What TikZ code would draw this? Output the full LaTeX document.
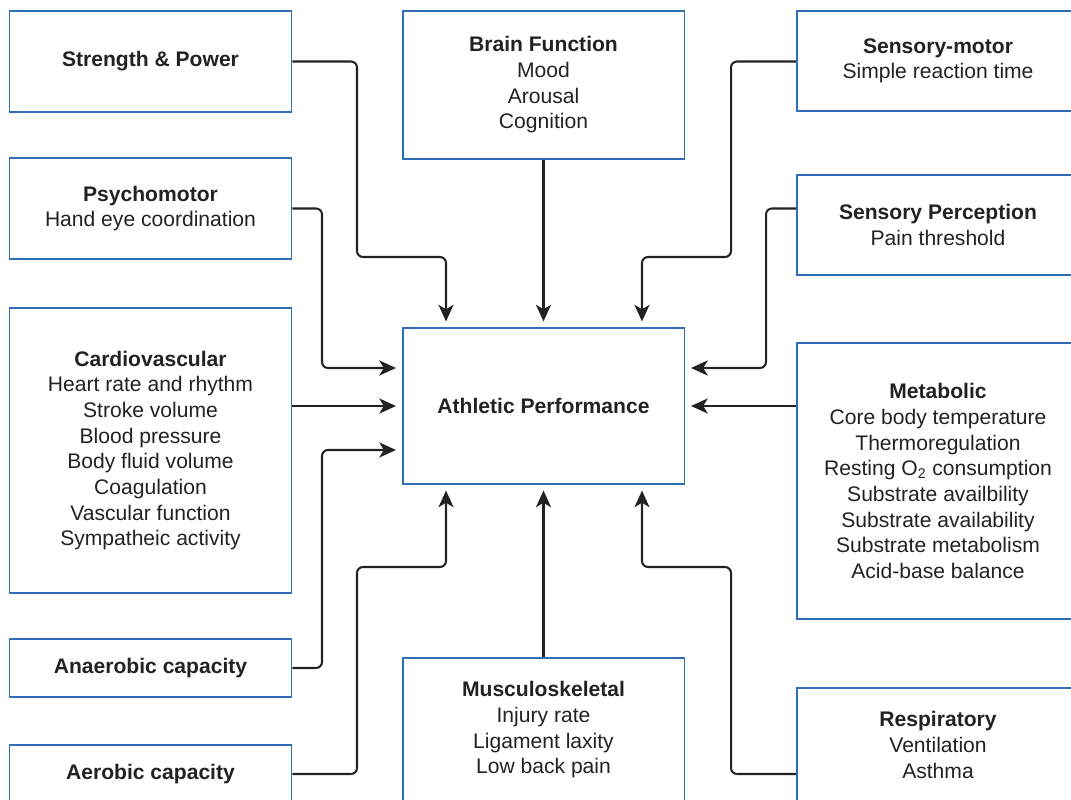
\documentclass[tikz,border=0pt]{standalone}
\usepackage{fontspec}
\setmainfont{Liberation Sans}
\usetikzlibrary{arrows.meta}
\usetikzlibrary{calc}

\definecolor{boxblue}{RGB}{48,110,182}
\definecolor{ink}{RGB}{34,34,34}

\tikzset{
    box/.style={draw=boxblue, line width=1.1pt, minimum width=5.64cm, align=center,
        text=ink, font=\fontsize{12}{14.6}\selectfont, inner sep=0pt},
    link/.style={draw=ink, line width=1.15pt, rounded corners=3.4pt,
        -{Stealth[length=9.5pt,width=8.6pt,inset=2.6pt]}, shorten >=3.2pt},
}

\begin{document}
\begin{tikzpicture}[x=0.02cm, y=-0.02cm]
    \useasboundingbox (0,0) rectangle (1071,800);
    \clip (0,0) rectangle (1071,800);

    % 中间的方框
    \node[box, minimum height=3.12cm] (athletic) at (543.5,406) {\textbf{Athletic Performance}};

    % 左列
    \node[box, minimum height=2.02cm] (strength) at (150.5,61.5) {\textbf{Strength \& Power}};
    \node[box, minimum height=2.02cm] (psycho) at (150.5,208.5) {\textbf{Psychomotor}\\Hand eye coordination};
    \node[box, minimum height=5.7cm] (cardio) at (150.5,450.5) {\textbf{Cardiovascular}\\Heart rate and rhythm\\Stroke volume\\Blood pressure\\Body fluid volume\\Coagulation\\Vascular function\\Sympatheic activity};
    \node[box, minimum height=1.16cm] (anaerobic) at (150.5,668) {\textbf{Anaerobic capacity}};
    \node[box, minimum height=1.16cm] (aerobic) at (150.5,774) {\textbf{Aerobic capacity}};

    % 中列
    \node[box, minimum height=2.96cm] (brain) at (543.5,85) {\textbf{Brain Function}\\Mood\\Arousal\\Cognition};
    \node[box, minimum height=2.88cm] (musculo) at (543.5,730) {\textbf{Musculoskeletal}\\Injury rate\\Ligament laxity\\Low back pain};

    % 右列
    \node[box, minimum height=2.0cm] (sensmotor) at (938,61) {\textbf{Sensory-motor}\\Simple reaction time};
    \node[box, minimum height=2.0cm] (sensperc) at (938,225) {\textbf{Sensory Perception}\\Pain threshold};
    \node[box, minimum height=5.52cm] (metabolic) at (938,481) {\textbf{Metabolic}\\Core body temperature\\Thermoregulation\\Resting O\textsubscript{2} consumption\\Substrate availbility\\Substrate availability\\Substrate metabolism\\Acid-base balance};
    \node[box, minimum height=2.28cm] (resp) at (938,745) {\textbf{Respiratory}\\Ventilation\\Asthma};

    % 连线
    \draw[link] (strength.east) -| (357,257) -| ($(athletic.north)+(-97.5,0)$);
    \draw[link] (psycho.east) -| (322,368) -- ($(athletic.west)+(0,-38)$);
    \draw[link] (cardio.east |- athletic.west) -- (athletic.west);
    \draw[link] (anaerobic.east) -| (322,450) -- ($(athletic.west)+(0,44)$);
    \draw[link] (aerobic.east) -| (357,567) -| ($(athletic.south)+(-97.5,0)$);
    \draw[link] (brain.south) -- (athletic.north);
    \draw[link] (musculo.north) -- (athletic.south);
    \draw[link] (sensmotor.west |- strength.east) -| (731,257) -| ($(athletic.north)+(98.5,0)$);
    \draw[link] (sensperc.west |- psycho.east) -| (766,368) -- ($(athletic.east)+(0,-38)$);
    \draw[link] (metabolic.west |- athletic.east) -- (athletic.east);
    \draw[link] (resp.west |- aerobic.east) -| (731,567) -| ($(athletic.south)+(98.5,0)$);
\end{tikzpicture}
\end{document}
